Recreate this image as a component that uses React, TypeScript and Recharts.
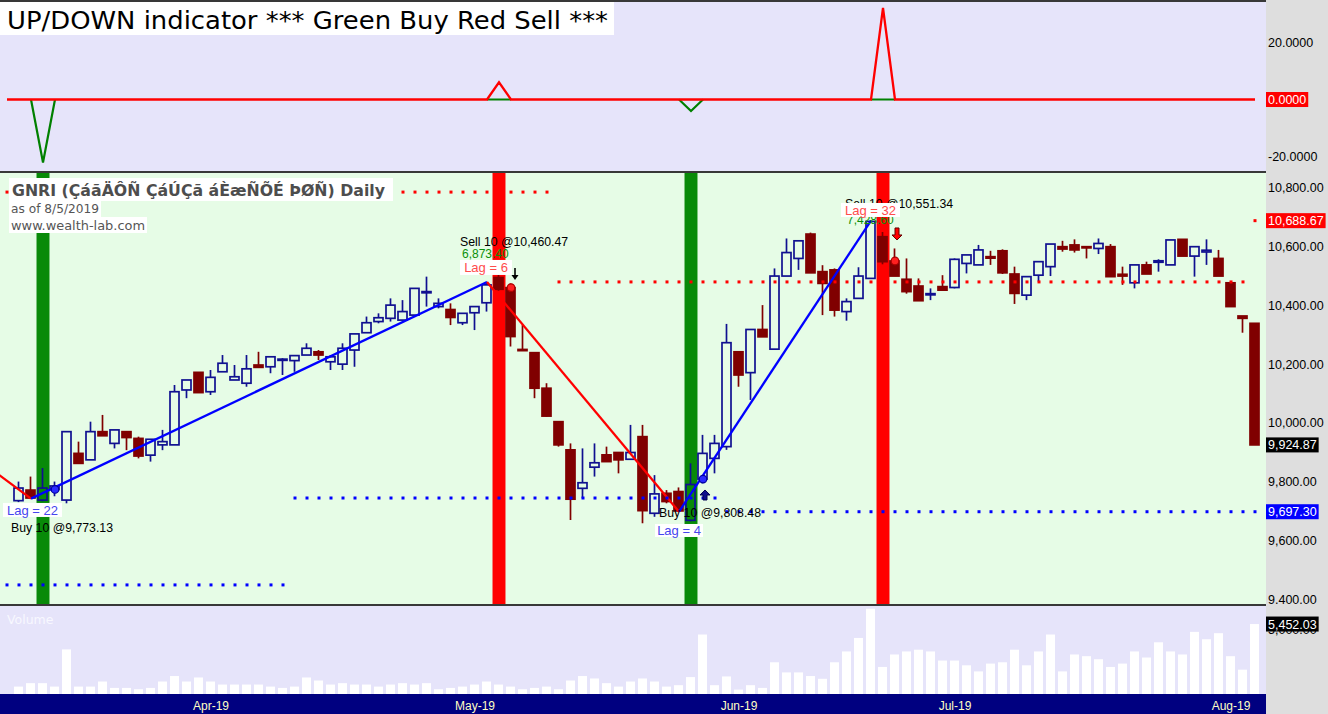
import React from 'react';
import { ComposedChart, Line, Bar, Scatter, XAxis, YAxis, ReferenceArea } from 'recharts';

// ---------------- data (bar 0 = 10 Mar 2019 ... bar 103 = 5 Aug 2019) ----------------
const opens = [
  9735, 9771, 9737, 9773, 9737, 9896, 9874, 9970, 9930, 9970,
  9947, 9890, 9925, 9925, 10112, 10172, 10106, 10174, 10146, 10135,
  10197, 10191, 10214, 10212, 10231, 10242, 10208, 10200, 10248, 10307,
  10345, 10356, 10350, 10367, 10445, 10396, 10386, 10341, 10375, 10409,
  10495, 10460.47, 10250, 10239, 10118, 10004, 9908, 9777, 9849, 9891,
  9899, 9876, 9953, 9692, 9760, 9766, 9668, 9808.48, 9879, 9919,
  10242, 10171, 10318, 10251, 10500, 10560, 10643, 10515, 10521, 10379,
  10424, 10492, 10634, 10551.34, 10489, 10466, 10438, 10464, 10461, 10543,
  10538, 10566, 10586, 10507, 10435, 10503, 10532, 10600, 10606, 10600,
  10594, 10600, 10506, 10477, 10538, 10547, 10538, 10625, 10568, 10582,
  10560, 10477, 10364, 10339,
];
const highs = [
  9800, 9817, 9846, 9800, 9972, 9936, 10004, 10027, 9976, 9970,
  9953, 9944, 9976, 10129, 10146, 10172, 10180, 10231, 10197, 10231,
  10242, 10225, 10220, 10229, 10271, 10248, 10231, 10271, 10303, 10362,
  10373, 10424, 10418, 10458, 10498, 10424, 10407, 10373, 10396, 10480,
  10505, 10475, 10333, 10239, 10135, 10004, 9930, 9913, 9930, 9919,
  9899, 9993, 9993, 9822, 9771, 9780, 9862, 9959, 9959, 10337,
  10242, 10318, 10401, 10526, 10628, 10620, 10648, 10537, 10526, 10424,
  10530, 10688.67, 10650, 10594, 10560, 10492, 10458, 10503, 10560, 10572,
  10606, 10586, 10591, 10532, 10498, 10549, 10609, 10620, 10625, 10600,
  10628, 10609, 10532, 10538, 10549, 10557, 10623, 10625, 10600, 10625,
  10589, 10477, 10364, 10339,
];
const lows = [
  9730, 9742, 9733, 9750, 9726, 9862, 9874, 9956, 9913, 9907,
  9879, 9868, 9907, 9925, 10084, 10103, 10095, 10174, 10146, 10123,
  10189, 10169, 10163, 10174, 10231, 10214, 10180, 10180, 10191, 10307,
  10339, 10345, 10350, 10362, 10396, 10390, 10333, 10333, 10316, 10379,
  10450, 10260, 10246, 10084, 10021, 9919, 9669, 9743, 9817, 9868,
  9828, 9876, 9658, 9680, 9726, 9697.3, 9665, 9794, 9828, 9908,
  10123, 10078, 10293, 10251, 10500, 10521, 10511, 10367, 10362, 10348,
  10424, 10492, 10540, 10500, 10440, 10416, 10418, 10452, 10458, 10509,
  10538, 10538, 10507, 10405, 10418, 10481, 10500, 10583, 10580, 10560,
  10575, 10498, 10470, 10458, 10507, 10515, 10538, 10568, 10498, 10538,
  10500, 10396, 10307, 9924.87,
];
const closes = [
  9778, 9744, 9778, 9785, 9970, 9862, 9970, 9956, 9976, 9950,
  9887, 9944, 9936, 10106, 10146, 10103, 10155, 10203, 10157, 10184,
  10189, 10225, 10217, 10229, 10254, 10231, 10225, 10254, 10303, 10341,
  10358, 10401, 10379, 10458, 10447, 10407, 10359, 10373, 10396, 10470,
  10455, 10294, 10246, 10118, 10023, 9925, 9740, 9796, 9864, 9868,
  9874, 9899, 9701, 9758, 9732, 9700, 9790, 9896, 9930, 10273,
  10163, 10318, 10293, 10500, 10580, 10620, 10511, 10475, 10384, 10413,
  10500, 10686, 10549, 10500, 10447, 10416, 10440, 10452, 10557, 10572,
  10589, 10561, 10511, 10441, 10498, 10549, 10609, 10592, 10589, 10597,
  10611, 10498, 10500, 10538, 10507, 10552, 10623, 10568, 10600, 10588,
  10500, 10396, 10356, 9924.87,
];
const volumes = [
  577, 845, 845, 577, 3476, 577, 577, 972, 474, 474,
  371, 474, 972, 1398, 972, 1288, 972, 735, 735, 735,
  735, 577, 474, 577, 1288, 1051, 735, 845, 735, 735,
  577, 735, 845, 735, 845, 371, 474, 577, 735, 972,
  735, 577, 371, 474, 577, 371, 1051, 1398, 1209, 845,
  577, 972, 1209, 972, 577, 687, 1319, 4637, 687, 1367,
  340, 687, 474, 2473, 1683, 1683, 1398, 1185, 2473, 3318,
  4369, 6636, 2109, 3081, 3318, 3452, 3318, 2607, 2607, 2236,
  1762, 2370, 2473, 3452, 2236, 3318, 4637, 1762, 3081, 2947,
  2710, 2109, 2370, 3318, 2844, 4029, 3318, 3081, 4843, 4266,
  4740, 2947, 1896, 5452.03,
];

const monthTickBars = [16, 38, 60, 78, 101];
const monthTickLabels = ['Apr-19', 'May-19', 'Jun-19', 'Jul-19', 'Aug-19'];

// UP/DOWN indicator: flat at zero except for these spikes
const indicatorFirstBar = -1;
const indicatorLastBar = 103;
const indicatorUp = [{ i: 40, v: 6 }, { i: 72, v: 32 }];
const indicatorDown = [{ i: 2, v: -22 }, { i: 56, v: -4 }];

const buySignalBars = [2, 56];
const sellSignalBars = [40, 72];

// zig-zag pivots
const zigzagPivots = [
  { i: -4, v: 9893 },
  { i: 1, v: 9742 },
  { i: 39, v: 10480 },
  { i: 55, v: 9697.3 },
  { i: 71, v: 10688.67 },
];

// dotted levels
const levelSpans = [
  { from: -1, to: 22, v: 9448, side: 'long' },
  { from: 23, to: 58, v: 9744, side: 'long' },
  { from: 59, to: 103, v: 9697.3, side: 'long' },
  { from: -1, to: 44, v: 10786, side: 'short' },
  { from: 45, to: 102, v: 10480, side: 'short' },
  { from: 103, to: 103, v: 10688.67, side: 'short' },
];

const trades = [
  { i: 3, price: 9773.13, side: 'buy', label: 'Buy 10 @9,773.13', lag: 'Lag = 22', profit: '' },
  { i: 41, price: 10460.47, side: 'sell', label: 'Sell 10 @10,460.47', lag: 'Lag = 6', profit: '6,873.40' },
  { i: 57, price: 9808.48, side: 'buy', label: 'Buy 10 @9,808.48', lag: 'Lag = 4', profit: '' },
  { i: 73, price: 10551.34, side: 'sell', label: 'Sell 10 @10,551.34', lag: 'Lag = 32', profit: '7,428.60' },
];

const priceTicks = [9400, 9600, 9697.3, 9800, 9924.87, 10000, 10200, 10400, 10600, 10688.67, 10800];
const priceMarks = [
  { v: 10688.67, color: '#FF0000' },
  { v: 9924.87, color: '#000000' },
  { v: 9697.3, color: '#0000FF' },
];
const indicatorTicks = [-20, 0, 20];
const indicatorMarks = [{ v: 0, color: '#FF0000' }];
const volumeTicks = [5000, 5452.03];
const volumeMarks = [{ v: 5452.03, color: '#000000' }];

// ---------------- derived tables ----------------
const priceRows = opens.map((o, i) => ({
  i, open: o, high: highs[i], low: lows[i], close: closes[i], range: [lows[i], highs[i]],
}));
const volumeRows = volumes.map((v, i) => ({ i, vol: v }));
const spikeBars = [...indicatorUp, ...indicatorDown].map((p) => p.i);
const indicatorRows: { i: number; up: number; down: number | null }[] = [];
for (let i = indicatorFirstBar; i <= indicatorLastBar; i++) {
  const u = indicatorUp.find((p) => p.i === i);
  const d = indicatorDown.find((p) => p.i === i);
  const nearSpike = spikeBars.some((s) => Math.abs(s - i) <= 1);
  // the green (down) trace is only visible around the spikes; elsewhere it lies under the red trace
  indicatorRows.push({ i, up: u ? u.v : 0, down: nearSpike ? (d ? d.v : 0) : null });
}
const zigzagSegments = zigzagPivots.slice(1).map((p, k) => {
  const a = zigzagPivots[k];
  return { pts: [a, p], color: p.v > a.v ? '#0000FF' : '#FF0000' };
});
const levelSeries = levelSpans.map((s) => {
  const pts: { i: number; v: number }[] = [];
  for (let i = s.from; i <= s.to; i++) pts.push({ i, v: s.v });
  return { pts, color: s.side === 'long' ? '#0000FF' : '#FF0000' };
});
const tradeRows = trades.map((t, k) => ({ ...t, k, v: t.price }));

// ---------------- layout / style ----------------
const CHART_W = 1328;
const AXIS_W = 62;
const PLOT_W = CHART_W - AXIS_W;
const BAR_STEP = 12;
const FIRST_BAR_X = 19;
const X_DOMAIN: [number, number] = [-FIRST_BAR_X / BAR_STEP, (PLOT_W - FIRST_BAR_X) / BAR_STEP];

const LAVENDER = '#E6E4FA';
const MINT = '#E6FCE6';
const GRAY = '#DEDEDE';
const NAVY = '#000080';
const SEP = '#383838';
const UP_COL = '#101090';
const DOWN_COL = '#800000';
const AXIS_FONT = 12.5;

const fmt2 = (v: number) => v.toLocaleString('en-US', { minimumFractionDigits: 2, maximumFractionDigits: 2 });
const fmt4 = (v: number) => v.toFixed(4);

function textW(s: string, size: number) {
  let w = 0;
  for (const ch of s) w += /[0-9]/.test(ch) ? 0.556 : ch === '-' ? 0.333 : 0.278;
  return w * size;
}

function makeTick(marks: { v: number; color: string }[], fmt: (v: number) => string) {
  return (props: any) => {
    const { x, y, payload } = props;
    const v = payload.value;
    const m = marks.find((mm) => Math.abs(mm.v - v) < 1e-6);
    const label = fmt(v);
    const w = textW(label, AXIS_FONT);
    return (
      <g>
        {m && <rect x={x - 2} y={y - 7.5} width={w + 4} height={15} fill={m.color} />}
        <text x={x} y={y} dy="0.36em" fontSize={AXIS_FONT} fill={m ? '#FFFFFF' : '#000000'} textAnchor="start">
          {label}
        </text>
      </g>
    );
  };
}

function Candle(props: any) {
  const { x, y, width, height, payload } = props;
  if (!payload || !Number.isFinite(x) || !Number.isFinite(y)) return null;
  const { open, close, high, low } = payload;
  const cx = x + width / 2;
  const k = high > low ? height / (high - low) : 0;
  const py = (v: number) => y + (high - v) * k;
  const top = py(Math.max(open, close));
  const bot = py(Math.min(open, close));
  const up = close >= open;
  const col = up ? UP_COL : DOWN_COL;
  const hw = 4.5;
  const bh = Math.max(bot - top, 1.2);
  return (
    <g>
      <line x1={cx} x2={cx} y1={y} y2={top} stroke={col} strokeWidth={1.7} />
      <line x1={cx} x2={cx} y1={top + bh} y2={y + height} stroke={col} strokeWidth={1.7} />
      <rect x={cx - hw} y={top} width={hw * 2} height={bh} fill={up ? 'none' : col} stroke={col} strokeWidth={1.7} />
    </g>
  );
}

const squareDot = (color: string) => (p: any) => {
  if (p.cx == null || p.cy == null) return <g key={`n${p.index}`} />;
  return <rect key={`d${p.index}`} x={p.cx - 1.5} y={p.cy - 1.5} width={3} height={3} fill={color} />;
};

// annotation offsets relative to the fill marker
const TRADE_LAYOUT = [
  { text: [-44, 43], profit: null, lag: [-52, 13.5, 59, 14], arrow: null },
  { text: [-51, -41.7], profit: [-49, -29.7], lag: [-51, -27.7, 52, 15], arrow: { dir: 'down', dx: 4, t: -19.7, b: -7.7, fill: '#000000', stroke: '#000000', thin: true } },
  { text: [-44, 38.4], profit: null, lag: [-48, 44.9, 48, 13], arrow: { dir: 'up', dx: 2, t: 10.9, b: 20.9, fill: '#10108C', stroke: '#000050', thin: false } },
  { text: [-50, -53], profit: [-48, -37], lag: [-54, -58, 59, 14], arrow: { dir: 'down', dx: 2, t: -33, b: -21, fill: '#FF0000', stroke: '#600000', thin: false } },
] as any[];

function Arrow({ c, t, b, dir, fill, stroke, thin }: any) {
  if (thin) {
    const tip = dir === 'down' ? b : t;
    const base = dir === 'down' ? b - 5 : t + 5;
    return (
      <g>
        <line x1={c} x2={c} y1={dir === 'down' ? t : b} y2={base} stroke={fill} strokeWidth={1.6} />
        <polygon points={`${c - 3.5},${base} ${c + 3.5},${base} ${c},${tip}`} fill={fill} />
      </g>
    );
  }
  const pts =
    dir === 'down'
      ? [[c - 2, t], [c + 2, t], [c + 2, b - 5], [c + 5, b - 5], [c, b], [c - 5, b - 5], [c - 2, b - 5]]
      : [[c - 2, b], [c + 2, b], [c + 2, t + 5], [c + 5, t + 5], [c, t], [c - 5, t + 5], [c - 2, t + 5]];
  return <polygon points={pts.map((p) => p.join(',')).join(' ')} fill={fill} stroke={stroke} strokeWidth={1} />;
}

function TradeMark(props: any) {
  const { cx, cy, payload } = props;
  if (!payload || cx == null || cy == null) return null;
  const L = TRADE_LAYOUT[payload.k];
  const isBuy = payload.side === 'buy';
  const lagColor = isBuy ? '#4646EE' : '#FF4C4C';
  return (
    <g>
      <text x={cx + L.text[0]} y={cy + L.text[1]} fontSize={12.3} fill="#000000">{payload.label}</text>
      {L.profit && payload.profit && (
        <text x={cx + L.profit[0]} y={cy + L.profit[1]} fontSize={12} fill="#0A900A">{payload.profit}</text>
      )}
      <rect x={cx + L.lag[0]} y={cy + L.lag[1]} width={L.lag[2]} height={L.lag[3]} fill="#FFFFFF" />
      <text x={cx + L.lag[0] + L.lag[2] / 2} y={cy + L.lag[1] + L.lag[3] / 2} dy="0.36em" textAnchor="middle" fontSize={13} fill={lagColor}>
        {payload.lag}
      </text>
      {L.arrow && (
        <Arrow c={cx + L.arrow.dx} t={cy + L.arrow.t} b={cy + L.arrow.b} dir={L.arrow.dir} fill={L.arrow.fill} stroke={L.arrow.stroke} thin={L.arrow.thin} />
      )}
      <circle cx={cx} cy={cy} r={3.8} fill={isBuy ? '#2A2AFF' : '#FF2020'} stroke={isBuy ? '#0000A0' : '#B00000'} strokeWidth={1.2} />
    </g>
  );
}

const abs = (left: number, top: number, width: number, height: number, bg: string): React.CSSProperties => ({
  position: 'absolute', left, top, width, height, background: bg,
});

export default function App() {
  return (
    <div style={{ position: 'relative', width: CHART_W, height: 714, background: GRAY, overflow: 'hidden', fontFamily: '"Liberation Sans", Arial, sans-serif' }}>
      <style>{'body{margin:0;}'}</style>
      <div style={abs(0, 0, PLOT_W, 172, LAVENDER)} />
      <div style={abs(0, 172, PLOT_W, 433, MINT)} />
      <div style={abs(0, 605, PLOT_W, 89, LAVENDER)} />
      <div style={abs(0, 694, PLOT_W, 20, NAVY)} />

      {/* indicator pane */}
      <div style={{ position: 'absolute', left: 0, top: 0 }}>
        <ComposedChart width={CHART_W} height={172} data={indicatorRows} margin={{ top: 2, right: 0, bottom: 1, left: 0 }}>
          <XAxis type="number" dataKey="i" domain={X_DOMAIN} allowDataOverflow hide />
          <YAxis orientation="right" width={AXIS_W} domain={[-25, 34.1]} allowDataOverflow ticks={indicatorTicks} interval={0}
            tick={makeTick(indicatorMarks, fmt4)} tickLine={false} axisLine={false} tickSize={0} tickMargin={2} />
          <Line dataKey="down" stroke="#008000" strokeWidth={2.2} dot={false} connectNulls={false} isAnimationActive={false} />
          <Line dataKey="up" stroke="#FF0000" strokeWidth={2.3} dot={false} isAnimationActive={false} />
        </ComposedChart>
      </div>

      {/* price pane */}
      <div style={{ position: 'absolute', left: 0, top: 173 }}>
        <ComposedChart width={CHART_W} height={431} data={priceRows} margin={{ top: 0, right: 0, bottom: 0, left: 0 }}>
          <XAxis type="number" dataKey="i" domain={X_DOMAIN} allowDataOverflow hide />
          <YAxis orientation="right" width={AXIS_W} domain={[9383, 10851]} allowDataOverflow ticks={priceTicks} interval={0}
            tick={makeTick(priceMarks, fmt2)} tickLine={false} axisLine={false} tickSize={0} tickMargin={2} />
          {buySignalBars.map((b) => (
            <ReferenceArea key={`b${b}`} x1={b - 0.54} x2={b + 0.54} fill="#088A08" fillOpacity={1} stroke="none" />
          ))}
          {sellSignalBars.map((s) => (
            <ReferenceArea key={`s${s}`} x1={s - 0.54} x2={s + 0.54} fill="#FF0000" fillOpacity={1} stroke="none" />
          ))}
          <Bar dataKey="range" barSize={9} shape={<Candle />} isAnimationActive={false} />
          {zigzagSegments.map((seg, k) => (
            <Line key={`z${k}`} data={seg.pts} dataKey="v" stroke={seg.color} strokeWidth={2.3} dot={false} isAnimationActive={false} />
          ))}
          {levelSeries.map((ls, k) => (
            <Line key={`l${k}`} data={ls.pts} dataKey="v" stroke="none" dot={squareDot(ls.color)} activeDot={false} isAnimationActive={false} />
          ))}
          <Scatter data={tradeRows} dataKey="v" shape={TradeMark} isAnimationActive={false} />
        </ComposedChart>
      </div>

      {/* volume pane */}
      <div style={{ position: 'absolute', left: 0, top: 606 }}>
        <ComposedChart width={CHART_W} height={108} data={volumeRows} margin={{ top: 1, right: 0, bottom: 0, left: 0 }}>
          <XAxis type="number" dataKey="i" domain={X_DOMAIN} allowDataOverflow ticks={monthTickBars} interval={0}
            tickFormatter={(v: number) => monthTickLabels[monthTickBars.indexOf(v)] ?? ''}
            tick={{ fill: '#FFFFC4', fontSize: 12 }} tickLine={false} axisLine={false} tickSize={0} tickMargin={7} height={20} />
          <YAxis orientation="right" width={AXIS_W} domain={[0, 6780]} allowDataOverflow ticks={volumeTicks} interval={0}
            tick={makeTick(volumeMarks, fmt2)} tickLine={false} axisLine={false} tickSize={0} tickMargin={2} />
          <Bar dataKey="vol" fill="#FFFFFF" barSize={9} isAnimationActive={false} />
        </ComposedChart>
      </div>

      {/* pane separators */}
      <div style={abs(0, 0, PLOT_W, 2, SEP)} />
      <div style={abs(0, 171, PLOT_W, 2, SEP)} />
      <div style={abs(0, 604, PLOT_W, 2, SEP)} />

      {/* titles */}
      <svg width={CHART_W} height={714} style={{ position: 'absolute', left: 0, top: 0, pointerEvents: 'none' }}>
        <rect x={0} y={2} width={614} height={33} fill="#FFFFFF" />
        <text x={7} y={28.5} fontFamily='"DejaVu Sans", sans-serif' fontSize={25} textLength={601} lengthAdjust="spacingAndGlyphs" fill="#000000">
          UP/DOWN indicator *** Green Buy Red Sell ***
        </text>
        <rect x={9} y={178} width={384} height={23} fill="#FFFFFF" />
        <rect x={9} y={201} width={92} height={16} fill="#FFFFFF" />
        <rect x={9} y={217} width={138} height={16} fill="#FFFFFF" />
        <text x={12} y={196} fontFamily='"DejaVu Sans", sans-serif' fontWeight="bold" fontSize={15.5} fill="#4D4D4D" textLength={373} lengthAdjust="spacingAndGlyphs">
          GNRI (ÇáãÄÔÑ ÇáÚÇã áÈæÑÕÉ ÞØÑ) Daily
        </text>
        <text x={11} y={213} fontFamily='"DejaVu Sans", sans-serif' fontSize={12.5} fill="#555555" textLength={88} lengthAdjust="spacingAndGlyphs">
          as of 8/5/2019
        </text>
        <text x={11} y={230} fontFamily='"DejaVu Sans", sans-serif' fontSize={13} fill="#555555" textLength={134} lengthAdjust="spacingAndGlyphs">
          www.wealth-lab.com
        </text>
        <text x={7} y={624} fontFamily='"DejaVu Sans", sans-serif' fontSize={12.5} fill="#F8F8FF">
          Volume
        </text>
      </svg>
    </div>
  );
}
